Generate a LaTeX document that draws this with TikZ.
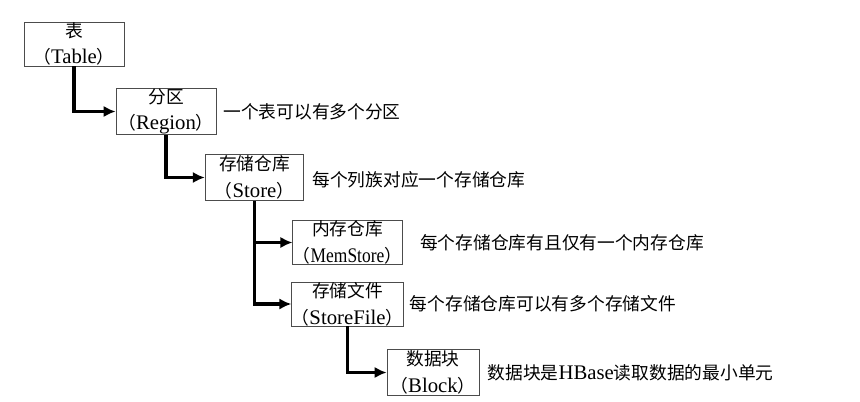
\documentclass[tikz,border=0pt]{standalone}
\usepackage{graphicx}
\usepackage{fontspec}
\setmainfont{Liberation Serif}[Scale=1.17]
\newfontfamily\cjk{Noto Sans CJK SC}
\newcommand{\zh}[1]{{\cjk #1}}
\usetikzlibrary{arrows.meta,positioning}

\begin{document}
\begin{tikzpicture}[x=0.75pt, y=-0.75pt, font=\fontsize{13.3}{20}\selectfont,
    box/.style={draw=black!70, line width=0.6pt, align=center, inner sep=0pt},
    link/.style={line width=2.4pt, -{Latex[length=9pt,width=8.5pt]}},
    note/.style={inner sep=0pt}]
    \useasboundingbox (0,0) rectangle (860,401);
    % levels of the hierarchy
    \node[box, minimum width=75pt, minimum height=33pt] (table) at (74,44)
      {\zh{表}\\\zh{（}Table\zh{）}};
    \node[box, minimum width=75pt, minimum height=34pt] (region) at (166,111.5)
      {\zh{分区}\\\zh{（}Region\zh{）}};
    \node[box, minimum width=74pt, minimum height=35pt] (store) at (254.5,177.5)
      {\zh{存储仓库}\\\zh{（}Store\zh{）}};
    \node[box, minimum width=82pt, minimum height=32pt] (memstore) at (347.5,242.5)
      {\zh{内存仓库}\\\zh{（}\scalebox{0.84}[1]{MemStore}\zh{）}};
    \node[box, minimum width=83pt, minimum height=33pt] (storefile) at (347.5,304)
      {\zh{存储文件}\\\zh{（}StoreFile\zh{）}};
    \node[box, minimum width=69pt, minimum height=34pt] (block) at (433,372.5)
      {\zh{数据块}\\\zh{（}Block\zh{）}};
    % notes beside the boxes
    \node[note, right=5pt of region] (regionnote) {\zh{一个表可以有多个分区}};
    \node[note, right=6pt of store, yshift=-2pt] (storenote) {\zh{每个列族对应一个存储仓库}};
    \node[note, right=13pt of memstore] (memnote) {\zh{每个存储仓库有且仅有一个内存仓库}};
    \node[note, right=4.5pt of storefile] (filenote) {\zh{每个存储仓库可以有多个存储文件}};
    \node[note, right=6pt of block] (blocknote) {\zh{数据块是}HBase\zh{读取数据的最小单元}};
    % connectors
    \draw[link] (table.south) |- (region.west);
    \draw[link] (region.south) |- (store.west);
    \draw[link] (store.south) |- (memstore.west);
    \draw[link] (store.south) |- (storefile.west);
    \draw[link] (storefile.south) |- (block.west);
\end{tikzpicture}
\end{document}
